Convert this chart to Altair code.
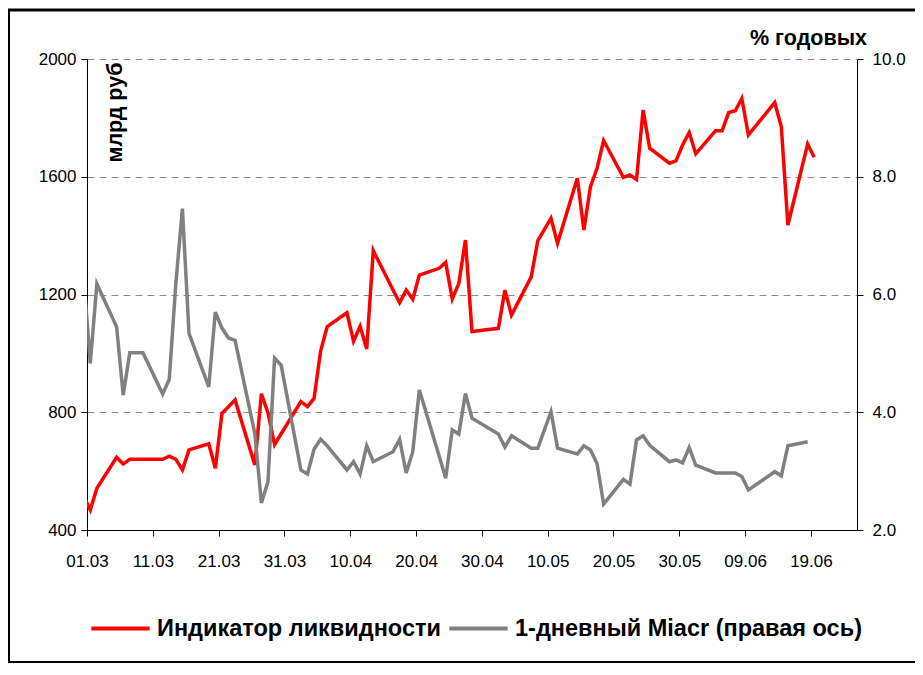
import altair as alt
import pandas as pd

dates = [
    "2007-02-28", "2007-03-01", "2007-03-02", "2007-03-05", "2007-03-06", "2007-03-07",
    "2007-03-09", "2007-03-12", "2007-03-13", "2007-03-14", "2007-03-15", "2007-03-16",
    "2007-03-19", "2007-03-20", "2007-03-21", "2007-03-22", "2007-03-23", "2007-03-26",
    "2007-03-27", "2007-03-28", "2007-03-29", "2007-03-30", "2007-04-02", "2007-04-03",
    "2007-04-04", "2007-04-05", "2007-04-06", "2007-04-09", "2007-04-10", "2007-04-11",
    "2007-04-12", "2007-04-13", "2007-04-16", "2007-04-17", "2007-04-18", "2007-04-19",
    "2007-04-20", "2007-04-23", "2007-04-24", "2007-04-25", "2007-04-26", "2007-04-27",
    "2007-04-28", "2007-05-02", "2007-05-03", "2007-05-04", "2007-05-07", "2007-05-08",
    "2007-05-10", "2007-05-11", "2007-05-14", "2007-05-15", "2007-05-16", "2007-05-17",
    "2007-05-18", "2007-05-21", "2007-05-22", "2007-05-23", "2007-05-24", "2007-05-25",
    "2007-05-28", "2007-05-29", "2007-05-30", "2007-05-31", "2007-06-01", "2007-06-04",
    "2007-06-05", "2007-06-06", "2007-06-07", "2007-06-08", "2007-06-09", "2007-06-13",
    "2007-06-14", "2007-06-15", "2007-06-18", "2007-06-19",
]

liquidity = [
    515, 468, 542, 647, 624, 640,
    640, 640, 651, 640, 604, 672,
    693, 610, 796, 819, 842, 621,
    863, 798, 690, 727, 836, 819,
    847, 1008, 1091, 1138, 1041, 1092,
    1015, 1349, 1215, 1172, 1215, 1184,
    1266, 1289, 1309, 1185, 1238, 1385,
    1074, 1085, 1215, 1130, 1260, 1383,
    1459, 1374, 1595, 1419, 1566, 1629,
    1723, 1598, 1606, 1591, 1827, 1697,
    1646, 1654, 1708, 1750, 1678, 1756,
    1756, 1818, 1824, 1866, 1742, 1852,
    1770, 1436, 1711, 1666,
]

miacr = [
    6.30, 4.83, 6.18, 5.45, 4.29, 5.01,
    5.01, 4.31, 4.56, 6.19, 7.46, 5.34,
    4.43, 5.70, 5.43, 5.26, 5.22, 3.64,
    2.46, 2.82, 4.92, 4.80, 3.02, 2.95,
    3.37, 3.54, 3.43, 3.02, 3.16, 2.95,
    3.43, 3.16, 3.33, 3.54, 2.97, 3.33,
    4.38, 3.26, 2.88, 3.70, 3.63, 4.32,
    3.90, 3.63, 3.41, 3.60, 3.39, 3.39,
    4.01, 3.39, 3.29, 3.43, 3.36, 3.13,
    2.44, 2.86, 2.78, 3.53, 3.60, 3.44,
    3.16, 3.19, 3.14, 3.40, 3.10, 2.97,
    2.97, 2.97, 2.97, 2.91, 2.68, 2.99,
    2.92, 3.43, 3.50, None,
]

series_names = ["Индикатор ликвидности", "1-дневный Miacr (правая ось)"]
series_colors = ["#FF0000", "#808080"]
x_tick_dates = ["2007-03-01", "2007-03-11", "2007-03-21", "2007-03-31", "2007-04-10",
                "2007-04-20", "2007-04-30", "2007-05-10", "2007-05-20", "2007-05-30",
                "2007-06-09", "2007-06-19"]
x_domain = ["2007-03-01", "2007-06-26"]
left_ticks = [400, 800, 1200, 1600, 2000]
right_ticks = [2, 4, 6, 8, 10]
left_title = "млрд руб"
right_title = "% годовых"

FONT = "Liberation Sans"


def utc_dt(s):
    y, m, d = (int(p) for p in s.split("-"))
    return alt.DateTime(year=y, month=m, date=d, utc=True)


# each daily value sits in the middle of its day slot (Excel date axis)
t = (pd.to_datetime(dates) + pd.Timedelta(hours=12)).strftime("%Y-%m-%dT%H:%M:%SZ")
df_red = pd.DataFrame({"t": list(t), "v": liquidity, "s": series_names[0]})
df_gray = pd.DataFrame({"t": list(t), "v": miacr, "s": series_names[1]}).dropna()

W, H = 770, 471

x_enc = alt.X(
    "t:T",
    scale=alt.Scale(type="utc", domain=[utc_dt(d) for d in x_domain]),
    axis=alt.Axis(
        values=[utc_dt(d) for d in x_tick_dates],
        labelExpr="utcFormat(datum.value, '%d.%m')",
        title=None,
        grid=False,
        tickSize=6,
        labelPadding=17,
        labelAngle=0,
        labelAlign="center",
    ),
)

legend = alt.Legend(
    title=None,
    orient="none",
    legendX=2,
    legendY=538,
    direction="horizontal",
    symbolType="stroke",
    symbolSize=3400,
    symbolStrokeWidth=4,
    labelFont=FONT,
    labelFontSize=23.5,
    labelFontWeight="bold",
    labelColor="#000000",
    labelLimit=0,
    labelOffset=5,
    columnPadding=0,
)

color_enc = alt.Color(
    "s:N",
    scale=alt.Scale(domain=series_names, range=series_colors),
    legend=legend,
)

title_common = dict(
    titleAlign="center",
    titleBaseline="middle",
    titleFont=FONT,
    titleFontSize=21.5,
    titleFontWeight="bold",
    titleColor="#000000",
)

red = (
    alt.Chart(df_red)
    .mark_line(strokeWidth=3.5, clip=True)
    .encode(
        x=x_enc,
        y=alt.Y(
            "v:Q",
            scale=alt.Scale(domain=[left_ticks[0], left_ticks[-1]], nice=False, zero=False),
            axis=alt.Axis(
                orient="left",
                values=left_ticks,
                format="d",
                grid=True,
                gridDash=[7, 5],
                gridColor="#8c8c8c",
                gridWidth=1,
                tickSize=6,
                labelPadding=5,
                title=left_title,
                titleX=28,
                titleY=53,
                titleAngle=270,
                **title_common,
            ),
        ),
        color=color_enc,
    )
)

gray = (
    alt.Chart(df_gray)
    .mark_line(strokeWidth=3.5, clip=True)
    .encode(
        x=x_enc,
        y=alt.Y(
            "v:Q",
            scale=alt.Scale(domain=[right_ticks[0], right_ticks[-1]], nice=False, zero=False),
            axis=alt.Axis(
                orient="right",
                values=right_ticks,
                format=".1f",
                grid=False,
                tickSize=6,
                labelPadding=9,
                title=right_title,
                titleX=-49,
                titleY=-21,
                titleAngle=0,
                **title_common,
            ),
        ),
        color=color_enc,
    )
)

frame_df = pd.DataFrame({"k": [0]})
top_line = alt.Chart(frame_df).mark_rule(color="#000000", strokeWidth=3).encode(
    x=alt.value(-79), x2=alt.value(W + 60), y=alt.value(-49)
)
left_line = alt.Chart(frame_df).mark_rule(color="#000000", strokeWidth=2).encode(
    x=alt.value(-78), y=alt.value(-49), y2=alt.value(604)
)
bottom_line = alt.Chart(frame_df).mark_rule(color="#000000", strokeWidth=2).encode(
    x=alt.value(-79), x2=alt.value(W + 60), y=alt.value(603)
)

chart = (
    alt.layer(red, gray, top_line, left_line, bottom_line)
    .resolve_scale(y="independent")
    .properties(
        width=W,
        height=H,
        autosize=alt.AutoSizeParams(type="none"),
        padding={"left": 79, "top": 51, "right": 58, "bottom": 137},
        background="#ffffff",
    )
    .configure_view(stroke=None)
    .configure_axis(
        domainColor="#000000",
        domainWidth=1,
        tickColor="#000000",
        labelFont=FONT,
        labelFontSize=17,
        labelColor="#000000",
    )
)

chart.save("out.html", embed_options={"renderer": "svg", "actions": False})
